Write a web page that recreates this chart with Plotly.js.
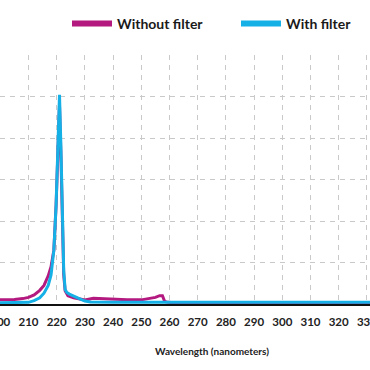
<!DOCTYPE html>
<html>
<head>
<meta charset="utf-8">
<script src="https://cdn.plot.ly/plotly-3.0.1.min.js"></script>
<style>html,body{margin:0;padding:0;background:#fff;}#chart{width:370px;height:370px;}</style>
</head>
<body>
<div id="chart"></div>
<script>
// Wavelength (nm) and relative intensity
const withoutFilterX = [199, 202, 205, 208, 210, 212, 214, 215.5, 217, 218, 219, 219.8, 220.4, 221, 221.5, 222, 222.5, 223, 224, 226, 228, 230, 233, 236, 240, 245, 250, 253, 255, 256.5, 257.5, 258.3, 259.5, 262, 266, 280, 332];
const withoutFilterY = [0.1, 0.1, 0.11, 0.13, 0.16, 0.22, 0.33, 0.45, 0.68, 0.9, 1.3, 2.4, 3.6, 4.8, 3.6, 2.1, 0.7, 0.32, 0.2, 0.15, 0.12, 0.1, 0.14, 0.13, 0.11, 0.1, 0.1, 0.13, 0.16, 0.2, 0.2, 0.06, 0.04, 0.03, 0.03, 0.03, 0.03];
const withFilterX = [199, 203, 207, 210, 212, 214, 215.5, 217, 218, 219, 219.8, 220.4, 221, 221.5, 222, 222.5, 223, 223.6, 224.5, 226, 228, 230, 232, 240, 260, 300, 332];
const withFilterY = [0.03, 0.03, 0.03, 0.04, 0.08, 0.15, 0.26, 0.45, 0.7, 1.3, 2.4, 3.8, 5.05, 3.8, 2.2, 0.8, 0.35, 0.28, 0.24, 0.2, 0.13, 0.07, 0.05, 0.04, 0.04, 0.04, 0.04];
const seriesNames = ["Without filter", "With filter"];
const xTitle = "Wavelength (nanometers)";

const magenta = "#b3197f";
const blue = "#15b0e6";

const traces = [
  {x: withoutFilterX, y: withoutFilterY, mode: "lines", line: {color: magenta, width: 3}, showlegend: false, hoverinfo: "skip"},
  {x: withFilterX, y: withFilterY, mode: "lines", line: {color: blue, width: 3}, showlegend: false, hoverinfo: "skip"},
  {x: [null], y: [null], mode: "lines", name: seriesNames[0], line: {color: magenta, width: 6}, legend: "legend"},
  {x: [null], y: [null], mode: "lines", name: seriesNames[1], line: {color: blue, width: 6}, legend: "legend2"}
];

const legendFont = {family: "Lato, sans-serif", size: 14, color: "#1a1a1a", weight: 700};
const layout = {
  width: 370, height: 370,
  margin: {l: 0, r: 0, t: 55, b: 66, autoexpand: false},
  paper_bgcolor: "#fff", plot_bgcolor: "#fff",
  font: {family: "Lato, 'Open Sans', sans-serif", color: "#222"},
  xaxis: {
    range: [199.9, 331.1], dtick: 10, tick0: 200,
    showgrid: true, gridcolor: "#c9c9c9", gridwidth: 1, griddash: "5px,5px",
    zeroline: false, showline: true, linecolor: "#111", linewidth: 2,
    ticks: "", ticklabelstandoff: 6, ticklabeloverflow: "allow",
    tickfont: {family: "Lato, sans-serif", size: 11.5, color: "#222", weight: 700},
    automargin: false
  },
  yaxis: {
    range: [0, 6.01], dtick: 1,
    showgrid: true, gridcolor: "#c9c9c9", gridwidth: 1, griddash: "5px,5px",
    zeroline: false, showline: false, showticklabels: false, ticks: "",
    automargin: false
  },
  legend: {
    orientation: "h", x: 67 / 370, xanchor: "left", y: 1.125, yanchor: "middle",
    font: legendFont, bgcolor: "rgba(0,0,0,0)", itemwidth: 40
  },
  legend2: {
    orientation: "h", x: 236 / 370, xanchor: "left", y: 1.125, yanchor: "middle",
    font: legendFont, bgcolor: "rgba(0,0,0,0)", itemwidth: 40
  },
  annotations: [{
    text: xTitle, xref: "paper", yref: "paper", x: 0.574, y: -0.19,
    xanchor: "center", yanchor: "middle", showarrow: false,
    font: {family: "Lato, sans-serif", size: 10, color: "#222", weight: 700}
  }]
};

Plotly.newPlot("chart", traces, layout, {displayModeBar: false, staticPlot: true});
</script>
</body>
</html>
